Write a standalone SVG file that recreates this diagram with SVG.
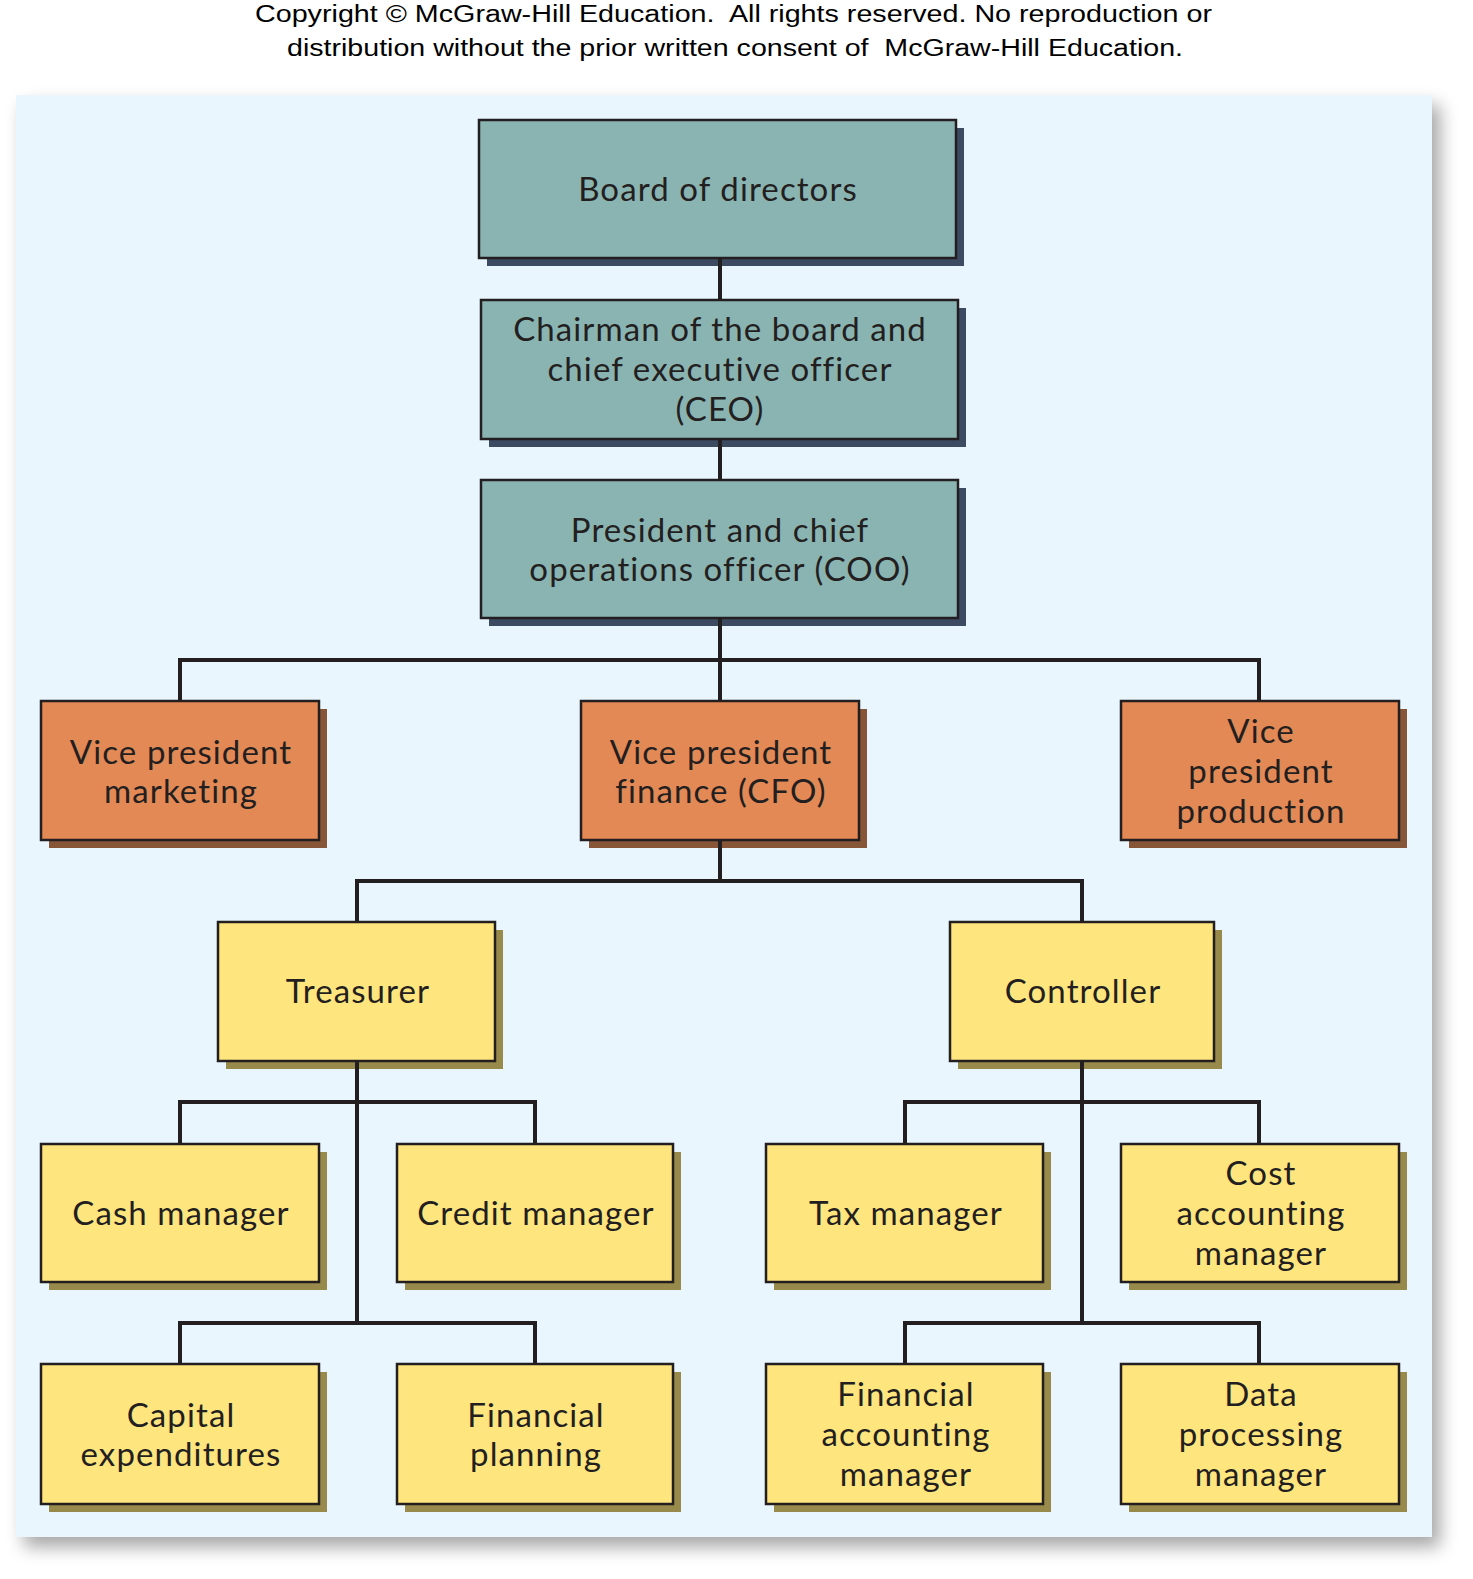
<svg xmlns="http://www.w3.org/2000/svg" width="1473" height="1579" viewBox="0 0 1473 1579">
<defs>
<filter id="blur" x="-5%" y="-5%" width="110%" height="110%">
<feGaussianBlur stdDeviation="9"/>
</filter>
<style>
.copy{font-family:"Liberation Sans",Arial,sans-serif;font-size:23px;fill:#000}
.t{font-family:Lato,"Open Sans",sans-serif;font-size:33px;letter-spacing:1.1px;fill:#231F20;text-anchor:middle}
.box{stroke:#231F20;stroke-width:2.5}
.teal{fill:#8AB4B2}.tealS{fill:#3D4B62}
.org{fill:#E38955}.orgS{fill:#875537}
.yel{fill:#FFE57E}.yelS{fill:#988A4A}
.con{fill:none;stroke:#231F20;stroke-width:4;stroke-linejoin:miter}
</style>
</defs>
<rect width="1473" height="1579" fill="#FFFFFF"/>
<g id="copyright">
<text class="copy" x="255" y="22" textLength="957" lengthAdjust="spacingAndGlyphs" xml:space="preserve">Copyright © McGraw-Hill Education.  All rights reserved. No reproduction or</text>
<text class="copy" x="287" y="56" textLength="896" lengthAdjust="spacingAndGlyphs" xml:space="preserve">distribution without the prior written consent of  McGraw-Hill Education.</text>
</g>
<g id="panel">
<rect x="24" y="105" width="1416" height="1442" fill="#000" opacity="0.35" filter="url(#blur)"/>
<rect x="16" y="95" width="1416" height="1442" fill="#EAF6FE"/>
</g>
<g id="board">
<rect class="tealS" x="487" y="128" width="477" height="138"/>
<rect class="box teal" x="479" y="120" width="477" height="138"/>
<text class="t" x="718" y="201">Board of directors</text>
</g>
<g id="ceo">
<rect class="tealS" x="489" y="308" width="477" height="139"/>
<rect class="box teal" x="481" y="300" width="477" height="139"/>
<text class="t" x="720" y="341">Chairman of the board and</text>
<text class="t" x="720" y="381">chief executive officer</text>
<text class="t" x="720" y="421">(CEO)</text>
</g>
<g id="coo">
<rect class="tealS" x="489" y="488" width="477" height="138"/>
<rect class="box teal" x="481" y="480" width="477" height="138"/>
<text class="t" x="720" y="542">President and chief</text>
<text class="t" x="720" y="581">operations officer (COO)</text>
</g>
<g id="vp-marketing">
<rect class="orgS" x="49" y="709" width="278" height="139"/>
<rect class="box org" x="41" y="701" width="278" height="139"/>
<text class="t" x="181" y="764">Vice president</text>
<text class="t" x="181" y="803">marketing</text>
</g>
<g id="vp-finance">
<rect class="orgS" x="589" y="709" width="278" height="139"/>
<rect class="box org" x="581" y="701" width="278" height="139"/>
<text class="t" x="721" y="764">Vice president</text>
<text class="t" x="721" y="803">finance (CFO)</text>
</g>
<g id="vp-production">
<rect class="orgS" x="1129" y="709" width="278" height="139"/>
<rect class="box org" x="1121" y="701" width="278" height="139"/>
<text class="t" x="1261" y="743">Vice</text>
<text class="t" x="1261" y="783">president</text>
<text class="t" x="1261" y="823">production</text>
</g>
<g id="treasurer">
<rect class="yelS" x="226" y="930" width="277" height="139"/>
<rect class="box yel" x="218" y="922" width="277" height="139"/>
<text class="t" x="358" y="1003">Treasurer</text>
</g>
<g id="controller">
<rect class="yelS" x="958" y="930" width="264" height="139"/>
<rect class="box yel" x="950" y="922" width="264" height="139"/>
<text class="t" x="1083" y="1003">Controller</text>
</g>
<g id="cash-manager">
<rect class="yelS" x="49" y="1152" width="278" height="138"/>
<rect class="box yel" x="41" y="1144" width="278" height="138"/>
<text class="t" x="181" y="1225">Cash manager</text>
</g>
<g id="credit-manager">
<rect class="yelS" x="405" y="1152" width="276" height="138"/>
<rect class="box yel" x="397" y="1144" width="276" height="138"/>
<text class="t" x="536" y="1225">Credit manager</text>
</g>
<g id="tax-manager">
<rect class="yelS" x="774" y="1152" width="277" height="138"/>
<rect class="box yel" x="766" y="1144" width="277" height="138"/>
<text class="t" x="906" y="1225">Tax manager</text>
</g>
<g id="cost-accounting-manager">
<rect class="yelS" x="1129" y="1152" width="278" height="138"/>
<rect class="box yel" x="1121" y="1144" width="278" height="138"/>
<text class="t" x="1261" y="1185">Cost</text>
<text class="t" x="1261" y="1225">accounting</text>
<text class="t" x="1261" y="1265">manager</text>
</g>
<g id="capital-expenditures">
<rect class="yelS" x="49" y="1372" width="278" height="140"/>
<rect class="box yel" x="41" y="1364" width="278" height="140"/>
<text class="t" x="181" y="1427">Capital</text>
<text class="t" x="181" y="1466">expenditures</text>
</g>
<g id="financial-planning">
<rect class="yelS" x="405" y="1372" width="276" height="140"/>
<rect class="box yel" x="397" y="1364" width="276" height="140"/>
<text class="t" x="536" y="1427">Financial</text>
<text class="t" x="536" y="1466">planning</text>
</g>
<g id="financial-accounting-manager">
<rect class="yelS" x="774" y="1372" width="277" height="140"/>
<rect class="box yel" x="766" y="1364" width="277" height="140"/>
<text class="t" x="906" y="1406">Financial</text>
<text class="t" x="906" y="1446">accounting</text>
<text class="t" x="906" y="1486">manager</text>
</g>
<g id="data-processing-manager">
<rect class="yelS" x="1129" y="1372" width="278" height="140"/>
<rect class="box yel" x="1121" y="1364" width="278" height="140"/>
<text class="t" x="1261" y="1406">Data</text>
<text class="t" x="1261" y="1446">processing</text>
<text class="t" x="1261" y="1486">manager</text>
</g>
<g id="connectors">
<path class="con" d="M720,258 V300"/>
<path class="con" d="M720,439 V480"/>
<path class="con" d="M720,618 V701"/>
<path class="con" d="M180,701 V660 H1259 V701"/>
<path class="con" d="M720,840 V881"/>
<path class="con" d="M357,922 V881 H1082 V922"/>
<path class="con" d="M357,1061 V1323"/>
<path class="con" d="M180,1144 V1102 H535 V1144"/>
<path class="con" d="M180,1364 V1323 H535 V1364"/>
<path class="con" d="M1082,1061 V1323"/>
<path class="con" d="M905,1144 V1102 H1259 V1144"/>
<path class="con" d="M905,1364 V1323 H1259 V1364"/>
</g>
</svg>
